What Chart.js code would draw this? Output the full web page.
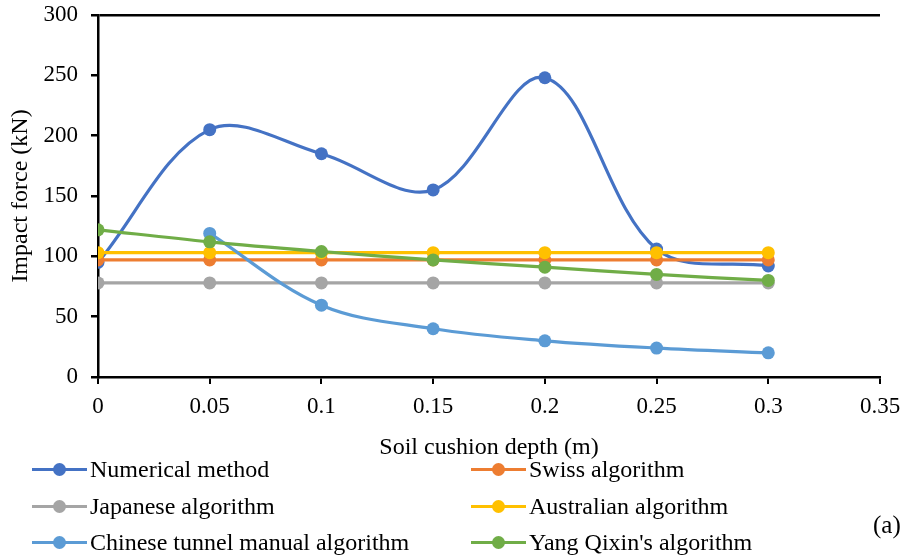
<!DOCTYPE html>
<html lang="en">
<head>
    <meta charset="UTF-8">
    <title>Impact force vs soil cushion depth</title>
    <script src="https://cdn.jsdelivr.net/npm/chart.js"></script>
    <style>
        body { margin: 0; background: #fff; font-family: "Liberation Serif", "Times New Roman", serif; }
        #wrap { position: relative; width: 906px; height: 558px; }
        #chart { position: absolute; left: 0; top: 0; }
        .legend-item { position: absolute; height: 24px; font-size: 24px; line-height: 24px; color: #000; white-space: nowrap; }
        .legend-item .mark { position: absolute; left: 0; top: 11px; width: 55px; height: 3px; }
        .legend-item .dot { position: absolute; left: 21px; top: 6px; width: 13px; height: 13px; border-radius: 50%; }
        .legend-item .txt { position: absolute; left: 58px; top: 0px; }
        #tag { position: absolute; left: 873px; top: 511px; font-size: 25px; }
    </style>
</head>
<body>
<div id="wrap">
    <canvas id="chart" width="906" height="558"></canvas>
    <div id="legend"></div>
    <div id="tag">(a)</div>
</div>

<script>
    // data
    const depths = [0, 0.05, 0.1, 0.15, 0.2, 0.25, 0.3];
    const numerical = [95, 205, 185, 155, 248, 106, 92];
    const swiss = [97, 97, 97, 97, 97, 97, 97];
    const japanese = [78, 78, 78, 78, 78, 78, 78];
    const australian = [103, 103, 103, 103, 103, 103, 103];
    const chinese = [null, 119, 59.5, 40, 30, 24, 20];
    const yangQixin = [122, 112, 104, 97, 91, 85, 80];

    const seriesNames = ['Numerical method', 'Swiss algorithm', 'Japanese algorithm',
        'Australian algorithm', 'Chinese tunnel manual algorithm', "Yang Qixin's algorithm"];
    const seriesColors = ['#4472C4', '#ED7D31', '#A5A5A5', '#FFC000', '#5B9BD5', '#70AD47'];
    const seriesValues = [numerical, swiss, japanese, australian, chinese, yangQixin];
    const seriesSmooth = [0.35, 0, 0, 0, 0.35, 0.35];

    const xTicks = [0, 0.05, 0.1, 0.15, 0.2, 0.25, 0.3, 0.35];

    const font = '"Liberation Serif", "Times New Roman", serif';

    const datasets = seriesValues.map((vals, i) => ({
        label: seriesNames[i],
        data: depths.map((d, j) => ({ x: d, y: vals[j] })).filter(p => p.y !== null),
        borderColor: seriesColors[i],
        backgroundColor: seriesColors[i],
        pointBackgroundColor: seriesColors[i],
        pointBorderWidth: 0,
        pointRadius: 6.5,
        borderWidth: 3.2,
        tension: seriesSmooth[i],
        order: seriesValues.length - i
    }));

    new Chart(document.getElementById('chart'), {
        type: 'line',
        data: { datasets },
        options: {
            responsive: false,
            animation: false,
            layout: { padding: { left: 0, right: 26, top: 15, bottom: 96 } },
            plugins: { legend: { display: false }, tooltip: { enabled: false } },
            scales: {
                x: {
                    type: 'linear',
                    min: 0, max: 0.35,
                    afterBuildTicks: axis => { axis.ticks = xTicks.map(v => ({ value: v })); },
                    afterFit: axis => { axis.height = 85; axis.paddingLeft = 0; axis.paddingRight = 0; },
                    border: { color: '#000', width: 2.5 },
                    grid: { drawOnChartArea: false, tickColor: '#000', tickLength: 7, lineWidth: 2 },
                    ticks: { color: '#000', font: { family: font, size: 23 }, padding: 9, maxRotation: 0,
                        callback: v => String(v) },
                    title: { display: true, text: 'Soil cushion depth (m)', color: '#000',
                        font: { family: font, size: 24 }, padding: { top: 0, bottom: 0 } }
                },
                y: {
                    min: 0, max: 300,
                    afterFit: axis => { axis.width = 98; axis.paddingTop = 0; axis.paddingBottom = 0; },
                    border: { color: '#000', width: 2.5 },
                    grid: {
                        color: c => (c.tick && c.tick.value === 300) ? '#000' : 'rgba(0,0,0,0)',
                        tickColor: '#000', tickLength: 7, lineWidth: 2.5
                    },
                    ticks: { stepSize: 50, color: '#000', font: { family: font, size: 23 }, padding: 13 },
                    title: { display: true, text: 'Impact force (kN)', color: '#000',
                        font: { family: font, size: 24 }, padding: { top: 6, bottom: 0 } }
                }
            }
        }
    });

    // legend: two columns, three rows
    const legendBox = document.getElementById('legend');
    const colX = [32, 471];
    const rowY = [457, 494, 530];
    seriesNames.forEach((name, i) => {
        const item = document.createElement('div');
        item.className = 'legend-item';
        item.style.left = colX[i % 2] + 'px';
        item.style.top = rowY[Math.floor(i / 2)] + 'px';
        item.innerHTML = `<span class="mark" style="background:${seriesColors[i]}"></span>` +
            `<span class="dot" style="background:${seriesColors[i]}"></span>` +
            `<span class="txt">${name}</span>`;
        legendBox.appendChild(item);
    });
</script>
</body>
</html>
